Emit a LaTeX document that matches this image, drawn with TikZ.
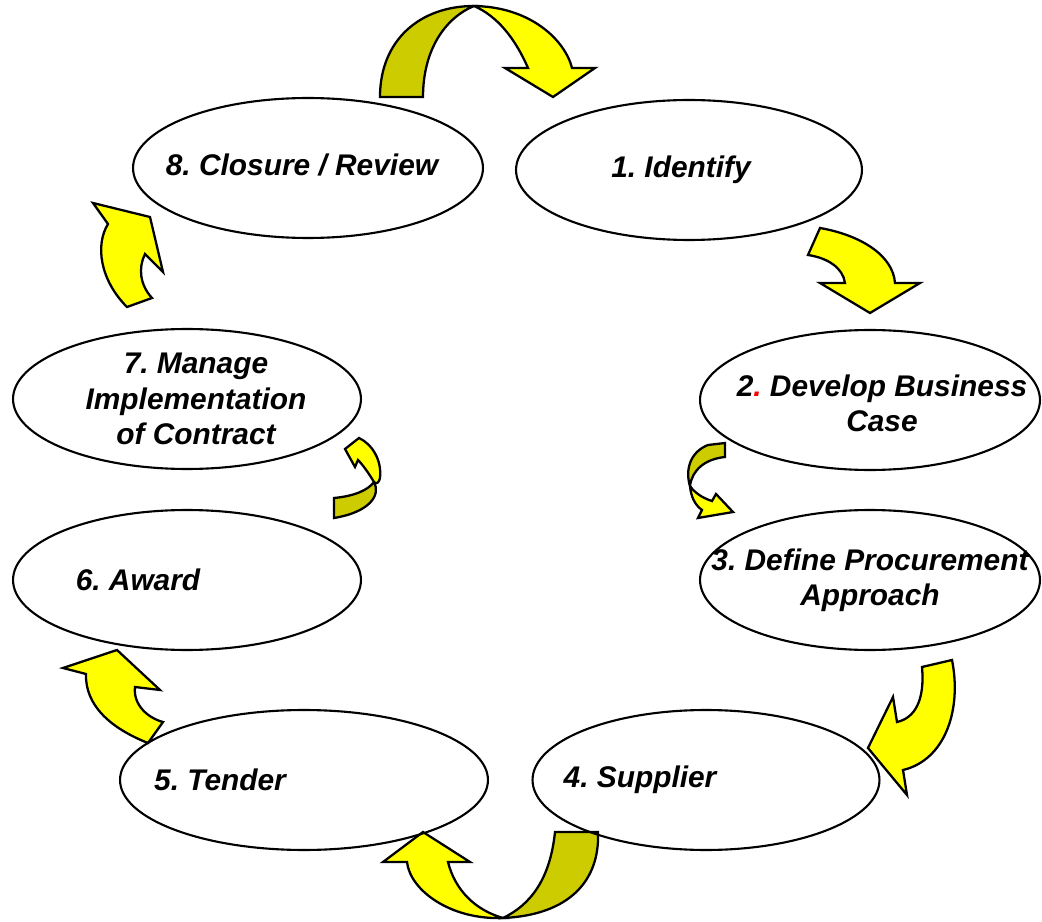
\documentclass[tikz,border=0pt]{standalone}
\usepackage{fontspec}
\setmainfont{Liberation Sans}
\frenchspacing
\usetikzlibrary{shapes.geometric,calc}
\definecolor{arrowyellow}{RGB}{255,255,0}
\definecolor{arrowolive}{RGB}{204,204,0}
\tikzset{
  stage/.style={ellipse, draw, line width=1.2pt, minimum height=2.8cm, inner sep=0pt},
  stagetext/.style={font=\fontsize{17}{20}\selectfont\bfseries\itshape, align=center},
  fwdarrow/.style={draw, line width=1.3pt, fill=arrowyellow, line join=miter},
  backarrow/.style={draw, line width=1.3pt, fill=arrowolive, line join=miter}
}

\begin{document}
\begin{tikzpicture}[x=0.02cm, y=-0.02cm]
  \useasboundingbox (0,0) rectangle (1042,922);

  % curved block arrows between the stages
  % 8 -> 1
  \draw[backarrow] (380,97) .. controls (380,40) and (420,6) .. (474,6)
     .. controls (445,18) and (423,50) .. (423,97) -- cycle;
  \draw[fwdarrow] (472,6) .. controls (530,6) and (565,40) .. (572,68)
     -- (595,68) -- (553,97) -- (505,68) -- (528,68)
     .. controls (515,38) and (497,16) .. (474,6) -- cycle;
  % 1 -> 2
  \draw[fwdarrow] (820,228) .. controls (860,235) and (893,255) .. (895,283)
     -- (920,283) -- (870,313) -- (820,283) -- (845,283)
     .. controls (843,268) and (828,258) .. (808,255) -- cycle;
  % 2 -> 3
  \draw[backarrow] (708,445) -- (725,443) -- (725,457)
     .. controls (705,459) and (692,470) .. (690,486)
     .. controls (685,470) and (690,452) .. (708,445) -- cycle;
  \draw[fwdarrow] (690,486) .. controls (691,497) and (695,505) .. (702,510)
     -- (698,518) -- (733,512) -- (716,494) -- (712,501)
     .. controls (702,498) and (694,492) .. (690,486) -- cycle;
  % 3 -> 4
  \draw[fwdarrow] (922,667) -- (952,660) .. controls (962,710) and (945,760) .. (903,770)
     -- (907,795) -- (868,748) -- (893,697) -- (897,722)
     .. controls (915,718) and (925,700) .. (922,667) -- cycle;
  % 4 -> 5
  \draw[backarrow] (555,832) -- (598,832) .. controls (600,880) and (570,915) .. (503,918)
     .. controls (530,905) and (550,880) .. (555,832) -- cycle;
  \draw[fwdarrow] (503,918) .. controls (450,920) and (410,890) .. (407,862)
     -- (383,862) -- (423,832) -- (470,862) -- (448,862)
     .. controls (455,890) and (475,910) .. (503,918) -- cycle;
  % 5 -> 6
  \draw[fwdarrow] (86,674) -- (63,668) -- (117,650) -- (160,690) -- (135,687)
     .. controls (133,705) and (148,718) .. (163,722) -- (148,743)
     .. controls (110,728) and (85,705) .. (86,674) -- cycle;
  % 6 -> 7
  \draw[backarrow] (334,498) .. controls (355,496) and (368,490) .. (374,482)
     .. controls (381,495) and (370,512) .. (334,518) -- cycle;
  \draw[fwdarrow] (374,482) .. controls (368,472) and (362,464) .. (358,460)
     -- (355,467) -- (345,449) -- (359,438)
     .. controls (372,444) and (382,460) .. (380,478)
     .. controls (379,482) and (377,485) .. (374,482) -- cycle;
  % 7 -> 8
  \draw[fwdarrow] (127,307) .. controls (100,280) and (95,245) .. (108,224)
     -- (93,203) -- (150,217) -- (163,272) -- (145,254)
     .. controls (138,268) and (140,285) .. (152,298) -- cycle;

  % stages
  \node[stage, minimum width=7cm] (e8) at (308,168) {};
  \node[stage, minimum width=6.92cm] (e1) at (689,170) {};
  \node[stage, minimum width=6.8cm] (e2) at (870,400) {};
  \node[stage, minimum width=6.8cm] (e3) at (870,580) {};
  \node[stage, minimum width=6.94cm] (e4) at (706,780) {};
  \node[stage, minimum width=7.36cm] (e5) at (304,780) {};
  \node[stage, minimum width=6.96cm] (e6) at (187,580) {};
  \node[stage, minimum width=6.96cm] (e7) at (187,399) {};

  \node[stagetext] (t8) at ($(e8)+(-6,-3)$) {8. Closure / Review};
  \node[stagetext] (t1) at ($(e1)+(-8,0)$) {1. Identify};
  \node[stagetext] (t2) at ($(e2)+(12,3)$) {2{\color{red}.} Develop Business\\Case};
  \node[stagetext] (t3) at (e3) {3. Define Procurement\\Approach};
  \node[stagetext] (t4) at ($(e4)+(-66,0)$) {4. Supplier};
  \node[stagetext] (t5) at ($(e5)+(-84,0)$) {5. Tender};
  \node[stagetext] (t6) at ($(e6)+(-49,0)$) {6. Award};
  \node[stagetext] (t7) at ($(e7)+(9,0)$) {7. Manage\\Implementation\\of Contract};
\end{tikzpicture}
\end{document}
